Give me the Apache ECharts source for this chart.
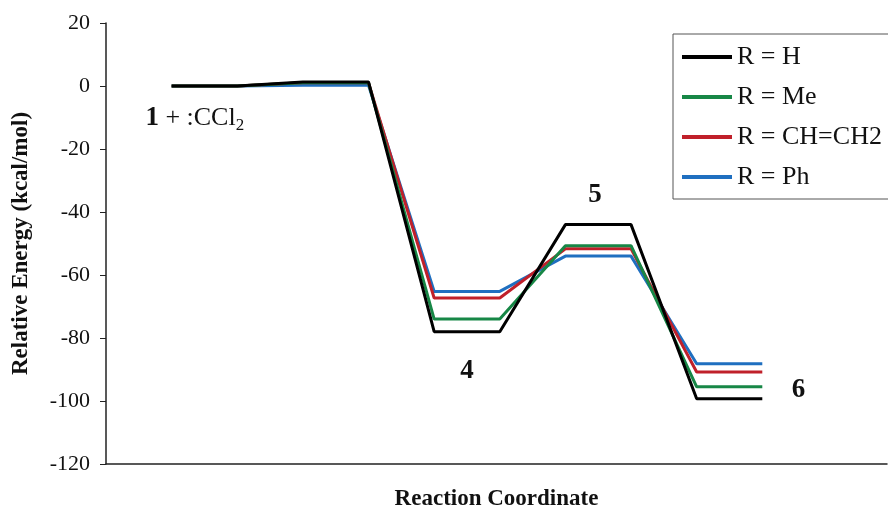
<!DOCTYPE html>
<html>
<head>
<meta charset="utf-8">
<script src="https://cdn.jsdelivr.net/npm/echarts@6/dist/echarts.min.js"></script>
<style>
  html, body { margin: 0; padding: 0; background: #fff; }
  #chart { width: 888px; height: 511px; }
</style>
</head>
<body>
<div id="chart"></div>
<script>
// reaction coordinate positions: each state is a flat segment of two points
const steps = [0, 1, 2, 3, 4, 5, 6, 7, 8, 9];
const seriesNames = ['R = H', 'R = Me', 'R = CH=CH2', 'R = Ph'];
const energyH = [0, 0, 1.3, 1.3, -78, -78, -44, -44, -99.3, -99.3];
const energyMe = [0, 0, 1.0, 1.0, -74, -74, -50.7, -50.7, -95.5, -95.5];
const energyVinyl = [0, 0, 1.0, 1.0, -67.3, -67.3, -51.7, -51.7, -90.8, -90.8];
const energyPh = [0, 0, 0.2, 0.2, -65.2, -65.2, -54, -54, -88.2, -88.2];
const colors = ['#000000', '#178746', '#c0202a', '#1f6fc0'];
const yTicks = [-120, -100, -80, -60, -40, -20, 0, 20];

// state labels placed in data coordinates
const stateLabels = [
    { text: '{b|1} + :CCl{sub|2}', x: -0.4, y: -10.3, align: 'left' },
    { text: '{b|4}', x: 4.5, y: -90.5, align: 'center' },
    { text: '{b|5}', x: 6.45, y: -34.5, align: 'center' },
    { text: '{b|6}', x: 9.55, y: -96.5, align: 'center' },
];

const chart = echarts.init(document.getElementById('chart'));
const serif = '"Liberation Serif", "Times New Roman", serif';
const allEnergies = [energyH, energyMe, energyVinyl, energyPh];

chart.setOption({
    animation: false,
    textStyle: { fontFamily: serif },
    grid: { left: 106, right: 1, top: 23, bottom: 47, outerBoundsMode: 'none' },
    legend: {
        orient: 'vertical',
        left: 673,
        top: 34,
        padding: [10, 40, 9, 9],
        itemWidth: 50,
        itemHeight: 4,
        itemGap: 14,
        itemTextGap: 6,
        icon: 'rect',
        borderColor: '#555',
        borderWidth: 1,
        textStyle: { fontFamily: serif, fontSize: 26, color: '#111' },
        data: seriesNames,
    },
    xAxis: {
        type: 'value',
        min: -1,
        max: 10.9,
        name: 'Reaction Coordinate',
        nameLocation: 'middle',
        nameGap: 24,
        nameTextStyle: { fontFamily: serif, fontWeight: 'bold', fontSize: 23, color: '#111' },
        axisLine: { onZero: false, lineStyle: { color: '#222', width: 1.5 } },
        axisTick: { show: false },
        axisLabel: { show: false },
        splitLine: { show: false },
    },
    yAxis: {
        type: 'value',
        min: yTicks[0],
        max: yTicks[yTicks.length - 1],
        interval: 20,
        name: 'Relative Energy (kcal/mol)',
        nameLocation: 'middle',
        nameGap: 73,
        nameTextStyle: { fontFamily: serif, fontWeight: 'bold', fontSize: 23, color: '#111' },
        axisLine: { show: true, onZero: false, lineStyle: { color: '#222', width: 1.5 } },
        axisTick: { show: true, length: 6, lineStyle: { color: '#222' } },
        axisLabel: { fontFamily: serif, fontSize: 22, color: '#111', margin: 16 },
        splitLine: { show: false },
    },
    series: seriesNames.map((name, i) => ({
        name,
        type: 'line',
        data: steps.map((s, k) => [s, allEnergies[i][k]]),
        symbol: 'none',
        color: colors[i],
        lineStyle: { width: 3, color: colors[i] },
        z: 10 - i,
    })),
});

const rich = {
    b: { fontFamily: serif, fontWeight: 'bold', fontSize: 27, color: '#111' },
    sub: { fontFamily: serif, fontSize: 17, color: '#111', padding: [15, 0, 0, 0] },
};
chart.setOption({
    graphic: stateLabels.map(l => {
        const p = chart.convertToPixel({ gridIndex: 0 }, [l.x, l.y]);
        return {
            type: 'text',
            x: p[0],
            y: p[1],
            style: {
                text: l.text,
                rich,
                font: '26px ' + serif,
                fill: '#111',
                align: l.align,
                verticalAlign: 'middle',
            },
        };
    }),
});
</script>
</body>
</html>
